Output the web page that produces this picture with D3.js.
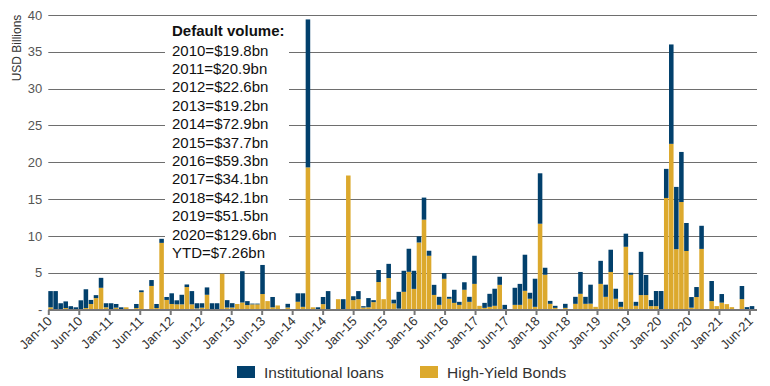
<!DOCTYPE html>
<html>
<head>
<meta charset="utf-8">
<script src="https://cdn.jsdelivr.net/npm/d3@7/dist/d3.min.js"></script>
<style>
  body { margin: 0; background: #fff; }
  svg { display: block; font-family: "Liberation Sans", Arial, sans-serif; }
</style>
</head>
<body>
<svg id="chart" width="770" height="386"></svg>
<script>
// monthly default volumes, USD bn, Jan-10 onwards
var loans = [
  2.2, 2.5, 0.85, 0.9, 0.45, 0.3, 1.25, 2.55, 0.55, 0.4, 1.35, 0.55,
  0.85, 0.5, 0.3, 0, 0, 0.55, 0.25, 0, 0.8, 0.55, 0.55, 0.4,
  1.45, 0.55, 1.3, 0.35, 1.8, 0.7, 0.6, 1.0, 0.85, 0.85, 0, 1.0,
  0.59, 0, 4.25, 0.54, 0.1, 0.1, 3.95, 0, 1.4, 0, 0, 0.5,
  0, 1.15, 1.84, 20.1, 0, 0.3, 0.97, 2.5, 0, 0, 1.4, 0,
  0.53, 1.1, 0.18, 1.25, 0.27, 1.63, 0, 1.93, 0.5, 2.28, 2.86, 3.13,
  2.46, 0.83, 3.0, 0.68, 1.37, 1.09, 0.77, 0.26, 1.78, 0.41, 1.02, 0.68,
  3.82, 0, 0.68, 1.77, 2.32, 1.1, 0.63, 0, 2.32, 2.85, 4.9, 0.81,
  3.82, 6.85, 0.95, 0.4, 0.28, 0, 0.55, 0, 0.95, 2.97, 0.95, 2.58,
  0, 3.13, 1.65, 3.02, 1.36, 0.68, 1.78, 0.27, 0.54, 5.87, 2.73, 0.82,
  2.05, 2.51, 3.95, 13.5, 8.45, 6.8, 3.8, 1.44, 1.36, 3.14, 0, 2.73,
  0, 1.17, 0, 0, 0, 1.78, 0.32, 0.46
];
var bonds = [
  0.3, 0, 0, 0.2, 0, 0, 0, 0.2, 0.75, 1.55, 2.95, 0.3,
  0, 0.25, 0, 0.3, 0, 0.2, 2.35, 0, 3.2, 0.2, 9.05, 1.3,
  0.75, 0.7, 0.7, 3.05, 0.7, 0.15, 0.25, 2.0, 0, 0, 4.85, 0.27,
  0.27, 0.75, 0.95, 0.6, 0.7, 0.7, 2.1, 1.14, 0.3, 0.55, 0, 0.27,
  0, 1.05, 0.36, 19.3, 0.3, 0, 0.73, 0, 0, 1.4, 0, 18.2,
  1.27, 1.4, 0.27, 0.3, 1.0, 3.73, 1.4, 4.27, 0.83, 0.12, 2.4, 5.12,
  2.8, 9.1, 12.2, 7.3, 1.98, 0.63, 4.17, 1.46, 0.9, 0.63, 2.68, 1.04,
  3.48, 0.5, 0.22, 0.36, 0.5, 3.35, 0, 0, 0.63, 0.63, 2.54, 1.46,
  0.36, 11.65, 4.72, 0.77, 0.22, 0, 0.22, 0, 0.77, 2.13, 0.77, 0.79,
  0.36, 3.48, 1.72, 5.1, 1.46, 0.36, 8.52, 4.72, 0.5, 1.96, 1.96, 0.46,
  0.46, 0, 15.15, 22.5, 8.2, 14.6, 7.95, 0.25, 1.69, 8.23, 0, 1.14,
  0.46, 0.93, 0.73, 0.32, 0, 1.41, 0, 0
];
var tickLabels = ["Jan-10", "Jun-10", "Jan-11", "Jun-11", "Jan-12", "Jun-12",
  "Jan-13", "Jun-13", "Jan-14", "Jun-14", "Jan-15", "Jun-15", "Jan-16", "Jun-16",
  "Jan-17", "Jun-17", "Jan-18", "Jun-18", "Jan-19", "Jun-19", "Jan-20", "Jun-20",
  "Jan-21", "Jun-21"];
var yTicks = [0, 5, 10, 15, 20, 25, 30, 35, 40];
var volumeTitle = "Default volume:";
var volumeLines = ["2010=$19.8bn", "2011=$20.9bn", "2012=$22.6bn", "2013=$19.2bn",
  "2014=$72.9bn", "2015=$37.7bn", "2016=$59.3bn", "2017=$34.1bn", "2018=$42.1bn",
  "2019=$51.5bn", "2020=$129.6bn", "YTD=$7.26bn"];
var seriesNames = ["Institutional loans", "High-Yield Bonds"];

var navy = "#02406c", gold = "#dca92d";

var months = d3.timeMonth.range(new Date(2010, 0, 1), new Date(2021, 8, 1));
var rows = months.map(function(m, i){
  return {month: m, bonds: bonds[i], loans: loans[i]};
});

var svg = d3.select("#chart");
var plotLeft = 48.3, plotRight = 757, plotBottom = 309.5, plotTop = 15;

var x = d3.scaleBand().domain(months).range([plotLeft, 754.3]).paddingInner(0.1);
var xTick = d3.scalePoint().domain(tickLabels).range([plotLeft, 749.4]);
var y = d3.scaleLinear().domain([0, 40]).range([plotBottom, plotTop]);

// gridlines
svg.append("g").selectAll("line")
  .data(yTicks.filter(function(d){ return d > 0; }))
  .enter().append("line")
  .attr("x1", plotLeft).attr("x2", plotRight)
  .attr("y1", function(d){ return Math.round(y(d)) + 0.5; })
  .attr("y2", function(d){ return Math.round(y(d)) + 0.5; })
  .attr("stroke", "#6e6e6e").attr("stroke-width", 1);

// stacked bars, bonds at the bottom
var stack = d3.stack().keys(["bonds", "loans"])(rows);
var colors = {bonds: gold, loans: navy};

svg.append("g").selectAll("g")
  .data(stack)
  .enter().append("g")
  .attr("fill", function(s){ return colors[s.key]; })
  .selectAll("rect")
  .data(function(s){ return s; })
  .enter().append("rect")
  .attr("x", function(d){ return x(d.data.month); })
  .attr("width", x.bandwidth())
  .attr("y", function(d){ return y(d[1]); })
  .attr("height", function(d){ return y(d[0]) - y(d[1]); });

// text box with yearly totals
svg.append("rect")
  .attr("x", 165).attr("y", 21).attr("width", 124).attr("height", 238)
  .attr("fill", "#fff");

var box = svg.append("g").attr("font-size", 15).attr("fill", "#111");
box.append("text")
  .attr("x", 172).attr("y", 36)
  .attr("font-weight", "bold")
  .text(volumeTitle);
box.selectAll("text.line")
  .data(volumeLines)
  .enter().append("text")
  .attr("class", "line")
  .attr("x", 172)
  .attr("y", function(d, i){ return 55.5 + i * 18.4; })
  .text(function(d){ return d; });

// y axis
var yAxis = d3.axisLeft(y)
  .tickValues(yTicks)
  .tickSize(0)
  .tickPadding(6)
  .tickFormat(function(d){ return d === 0 ? "-" : d; });

svg.append("g")
  .attr("transform", "translate(" + plotLeft + ",0)")
  .call(yAxis)
  .call(function(g){ g.select(".domain").remove(); })
  .selectAll("text")
  .attr("font-size", 13)
  .attr("font-family", "Liberation Sans, Arial, sans-serif")
  .attr("fill", "#555");

svg.append("text")
  .attr("transform", "translate(21,48) rotate(-90)")
  .attr("text-anchor", "middle")
  .attr("font-size", 12)
  .attr("fill", "#333")
  .text("USD Billions");

// x axis
svg.append("line")
  .attr("x1", plotLeft).attr("x2", plotRight)
  .attr("y1", plotBottom + 0.5).attr("y2", plotBottom + 0.5)
  .attr("stroke", "#777").attr("stroke-width", 2);

var xAxis = d3.axisBottom(xTick).tickSize(5).tickPadding(4);

var xg = svg.append("g")
  .attr("transform", "translate(0," + (plotBottom + 0.5) + ")")
  .call(xAxis);
xg.select(".domain").remove();
xg.selectAll(".tick line").attr("stroke", "#777").attr("stroke-width", 2);
xg.selectAll(".tick text")
  .attr("font-size", 13)
  .attr("font-family", "Liberation Sans, Arial, sans-serif")
  .attr("fill", "#333")
  .attr("text-anchor", "end")
  .attr("dy", null)
  .attr("transform", "translate(4,12) rotate(-45)")
  .attr("y", 0).attr("x", 0);

// legend
var legend = svg.append("g").attr("transform", "translate(237,366)");
var item = legend.selectAll("g")
  .data(seriesNames)
  .enter().append("g")
  .attr("transform", function(d, i){ return "translate(" + (i * 183) + ",0)"; });
item.append("rect")
  .attr("width", 18).attr("height", 12)
  .attr("fill", function(d, i){ return i === 0 ? navy : gold; });
item.append("text")
  .attr("x", 27).attr("y", 12)
  .attr("font-size", 15.5)
  .attr("fill", "#333")
  .text(function(d){ return d; });
</script>
</body>
</html>
